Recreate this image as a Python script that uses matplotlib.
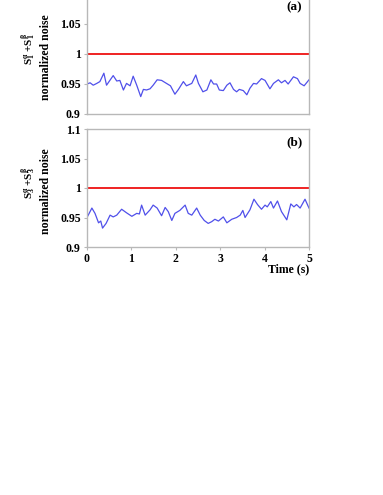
import matplotlib
matplotlib.use("Agg")
import matplotlib.pyplot as plt
import numpy as np

plt.rcParams['font.family'] = ['Liberation Serif', 'DejaVu Serif']
plt.rcParams['font.weight'] = 'bold'
plt.rcParams['mathtext.fontset'] = 'custom'
plt.rcParams['mathtext.rm'] = 'Liberation Serif:bold'
plt.rcParams['mathtext.it'] = 'Liberation Serif:bold'
plt.rcParams['mathtext.bf'] = 'Liberation Serif:bold'

# panel (a) noise trace
t_a = [0.0, 0.07, 0.14, 0.22, 0.29, 0.38, 0.44, 0.59, 0.67, 0.74, 0.82, 0.89, 0.97,
       1.04, 1.12, 1.21, 1.27, 1.34, 1.42, 1.49, 1.58, 1.68, 1.79, 1.88, 1.98, 2.06,
       2.17, 2.24, 2.36, 2.45, 2.51, 2.61, 2.70, 2.79, 2.85, 2.92, 2.98, 3.07, 3.15,
       3.22, 3.30, 3.37, 3.43, 3.52, 3.60, 3.67, 3.75, 3.82, 3.93, 4.01, 4.12, 4.20,
       4.31, 4.38, 4.46, 4.53, 4.65, 4.74, 4.80, 4.89, 5.0]
v_a = [0.950, 0.952, 0.948, 0.951, 0.954, 0.968, 0.948, 0.964, 0.955, 0.956, 0.940,
       0.951, 0.947, 0.963, 0.948, 0.929, 0.941, 0.940, 0.942, 0.948, 0.957, 0.956,
       0.951, 0.947, 0.933, 0.941, 0.954, 0.947, 0.951, 0.965, 0.951, 0.937, 0.940,
       0.957, 0.950, 0.950, 0.940, 0.939, 0.948, 0.952, 0.941, 0.937, 0.941, 0.939,
       0.932, 0.943, 0.951, 0.950, 0.959, 0.956, 0.942, 0.951, 0.957, 0.952, 0.956,
       0.950, 0.962, 0.959, 0.951, 0.947, 0.957]

# panel (b) noise trace
t_b = [0.0, 0.11, 0.18, 0.26, 0.31, 0.35, 0.43, 0.52, 0.59, 0.67, 0.78, 0.89, 1.01,
       1.12, 1.18, 1.23, 1.31, 1.42, 1.49, 1.58, 1.68, 1.76, 1.83, 1.91, 1.98, 2.09,
       2.21, 2.28, 2.36, 2.47, 2.55, 2.64, 2.73, 2.81, 2.88, 2.96, 3.07, 3.15, 3.26,
       3.37, 3.45, 3.51, 3.56, 3.67, 3.76, 3.84, 3.93, 4.01, 4.06, 4.14, 4.20, 4.29,
       4.38, 4.50, 4.59, 4.66, 4.72, 4.80, 4.91, 5.0]
v_b = [0.950, 0.966, 0.957, 0.941, 0.944, 0.932, 0.940, 0.954, 0.951, 0.954, 0.964,
       0.958, 0.952, 0.957, 0.956, 0.971, 0.954, 0.963, 0.971, 0.966, 0.953, 0.967,
       0.960, 0.945, 0.957, 0.962, 0.971, 0.957, 0.954, 0.966, 0.954, 0.945, 0.940,
       0.943, 0.947, 0.944, 0.951, 0.941, 0.947, 0.950, 0.954, 0.962, 0.950, 0.963,
       0.981, 0.972, 0.964, 0.971, 0.968, 0.977, 0.966, 0.978, 0.960, 0.946, 0.973,
       0.968, 0.972, 0.966, 0.981, 0.966]

ref_level = 1.0
yticks = [0.9, 0.95, 1.0, 1.05, 1.1]
ytick_labels = ['0.9', '0.95', '1', '1.05', '1.1']
xticks = [0, 1, 2, 3, 4, 5]

W, H = 383, 495
fig = plt.figure(figsize=(W / 100, H / 100), dpi=100)

def px_axes(left, top, right, bottom):
    return fig.add_axes([left / W, 1 - bottom / H, (right - left) / W, (bottom - top) / H])

ax_a = px_axes(87, -6, 309, 114)
ax_b = px_axes(87, 129, 309, 247)

panels = [(ax_a, t_a, v_a, '(a)', r'S$_1^\alpha$ +S$_1^\beta$'),
          (ax_b, t_b, v_b, '(b)', r'S$_3^\alpha$ +S$_3^\beta$')]

split_x = (39 - 87) / 222  # boundary between the two label lines, axes fraction

for ax, t, v, tag, lab in panels:
    ax.plot(t, v, color='#5050ea', lw=0.9)
    ax.axhline(ref_level, color='#ee1111', lw=1.3)
    ax.set_xlim(0, 5)
    ax.set_ylim(0.9, 1.1)
    ax.set_yticks(yticks)
    ax.set_yticklabels(ytick_labels)
    ax.set_xticks(xticks)
    for s in ax.spines.values():
        s.set_color('#b8b8b8')
        s.set_linewidth(1.0)
    ax.tick_params(axis='both', direction='out', length=2, color='#b8b8b8',
                   labelsize=8.5, pad=2.5)
    ax.text(0.97, 0.94, tag, transform=ax.transAxes, ha='right', va='top',
            fontsize=9.5, fontweight='bold')
    # two-line y label: symbol line and description line
    ax.text(split_x - 0.005, 0.54, lab, transform=ax.transAxes, rotation=90,
            ha='right', va='center', fontsize=8, fontweight='bold')
    ax.text(split_x + 0.005, 0.47, 'normalized noise', transform=ax.transAxes,
            rotation=90, ha='left', va='center', fontsize=8.5, fontweight='bold')

# the 1.1 label of the top panel falls outside the figure
ax_a.set_yticklabels(ytick_labels[:-1] + [''])
ax_a.tick_params(axis='x', labelbottom=False, length=0)
ax_b.text(1.0, -0.19, 'Time (s)', transform=ax_b.transAxes, ha='right', va='center',
          fontsize=8.5, fontweight='bold')

fig.savefig('out.png', dpi=100)
